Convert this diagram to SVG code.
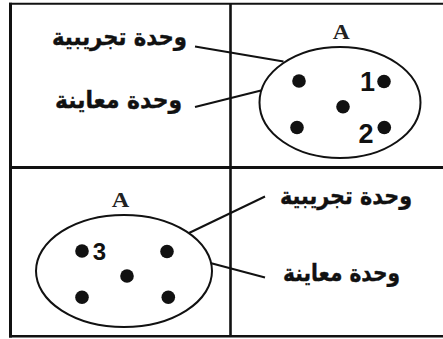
<svg xmlns="http://www.w3.org/2000/svg" width="443" height="339" viewBox="0 0 443 339">
  <style>
    .frame { stroke: #111; fill: none; }
    .set { fill: #fff; stroke: #111; stroke-width: 2; }
    .dot { fill: #111; }
    .conn { stroke: #111; stroke-width: 2; fill: none; stroke-linecap: butt; }
    .ar { font-family: "DejaVu Sans", sans-serif; font-weight: bold; font-size: 23.5px; fill: #111; text-anchor: middle; stroke: #111; stroke-width: 0.4px; }
    .setname { font-family: "Liberation Serif", serif; font-weight: bold; font-size: 20px; fill: #222; text-anchor: middle; }
    .num { font-family: "Liberation Sans", Arial, sans-serif; font-weight: bold; fill: #111; text-anchor: middle; }
  </style>
  <rect width="443" height="339" fill="#fff"/>
  <g id="frame" class="frame">
    <line x1="9" y1="3.7" x2="443" y2="3.7" stroke-width="2"/>
    <line x1="10.5" y1="2.7" x2="10.5" y2="337.5" stroke-width="3"/>
    <line x1="9" y1="336.2" x2="443" y2="336.2" stroke-width="2.4"/>
    <line x1="230.5" y1="3" x2="230.5" y2="337" stroke-width="2.6"/>
    <line x1="9" y1="167.5" x2="443" y2="167.5" stroke-width="3"/>
  </g>
  <g id="connectors">
    <line class="conn" x1="195" y1="46.5" x2="283.5" y2="61.5"/>
    <line class="conn" x1="195" y1="107" x2="297" y2="81.5"/>
    <line class="conn" x1="189" y1="233" x2="265" y2="196.5"/>
    <line class="conn" x1="167" y1="251.5" x2="265" y2="277.5"/>
  </g>
  <g id="setA-top">
    <text class="setname" x="341.3" y="38.5" textLength="17" lengthAdjust="spacingAndGlyphs">A</text>
    <ellipse class="set" cx="340" cy="102.5" rx="80.5" ry="55.5"/>
    <circle class="dot" cx="299" cy="81" r="6.8"/>
    <circle class="dot" cx="384" cy="81.5" r="6.8"/>
    <circle class="dot" cx="343" cy="106.7" r="6.8"/>
    <circle class="dot" cx="297" cy="127.5" r="6.8"/>
    <circle class="dot" cx="384.3" cy="127.5" r="6.8"/>
    <text class="num" x="367.5" y="91" font-size="27">1</text>
    <text class="num" x="366" y="143" font-size="27">2</text>
  </g>
  <g id="setA-bottom">
    <text class="setname" x="120.5" y="206.7" textLength="17.5" lengthAdjust="spacingAndGlyphs">A</text>
    <ellipse class="set" cx="124" cy="271" rx="88" ry="56"/>
    <circle class="dot" cx="82" cy="251" r="6.8"/>
    <circle class="dot" cx="167" cy="251.5" r="6.8"/>
    <circle class="dot" cx="127" cy="276" r="6.8"/>
    <circle class="dot" cx="82" cy="297.3" r="6.8"/>
    <circle class="dot" cx="168.3" cy="297.3" r="6.8"/>
    <text class="num" x="99.5" y="260" font-size="24">3</text>
  </g>
  <g id="label-top-experimental">
    <text class="ar" x="119.5" y="45" textLength="135" lengthAdjust="spacingAndGlyphs">وحدة تجريبية</text>
  </g>
  <g id="label-top-sampling">
    <text class="ar" x="118.5" y="108" textLength="127" lengthAdjust="spacingAndGlyphs">وحدة معاينة</text>
  </g>
  <g id="label-bottom-experimental">
    <text class="ar" x="346" y="204" textLength="132" lengthAdjust="spacingAndGlyphs">وحدة تجريبية</text>
  </g>
  <g id="label-bottom-sampling">
    <text class="ar" x="341.5" y="281" textLength="117" lengthAdjust="spacingAndGlyphs">وحدة معاينة</text>
  </g>
</svg>
